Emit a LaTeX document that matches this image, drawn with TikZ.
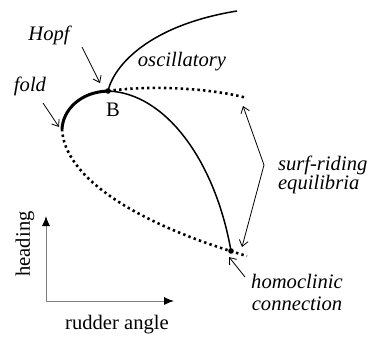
\documentclass[tikz,border=0pt]{standalone}
\usepackage{fontspec}
\setmainfont{Liberation Serif}
\usetikzlibrary{arrows.meta}

\begin{document}
\begin{tikzpicture}[x=0.5pt,y=-0.5pt,
    every node/.style={font=\fontsize{10.3}{10}\selectfont},
    lbl/.style={font=\fontsize{10.3}{10}\selectfont\itshape},
    arr/.style={line width=0.4pt,-{Straight Barb[length=3pt,width=4.5pt]}},
    branch/.style={line width=0.75pt},
    unstable/.style={line width=1.3pt,dash pattern=on 1.2pt off 1.6pt},
    axis/.style={gray,line width=0.5pt,-{Latex[color=black,length=5pt,width=4pt]}}]
  \useasboundingbox (0,0) rectangle (369,338);

  \coordinate (B) at (108,91);
  \coordinate (F) at (62,129);
  \coordinate (H) at (231,251);
  \coordinate (Otop) at (237,11);
  \coordinate (Uend) at (247,98);
  \coordinate (Lend) at (247,256);

  % branches
  \draw[branch] (B) .. controls (114,65) and (150,25) .. (Otop);
  \draw[branch] (B) .. controls (165,93) and (215,160) .. (H);
  \draw[line width=1.5pt] (F) .. controls (63,110) and (80,92) .. (B);
  \draw[unstable] (B) .. controls (150,85) and (210,88) .. (Uend);
  \draw[unstable] (F) .. controls (64,175) and (130,222) .. (Lend);
  \fill (B) circle (1.4pt);
  \fill (H) circle (1.4pt);

  % labels
  \node[lbl] (hopf) at (49,35) {Hopf};
  \node[lbl] (fold) at (30,86) {fold};
  \node (blab) at (113,110) {B};
  \node[lbl] (osc) at (182,62) {oscillatory};
  \node[lbl, align=left, anchor=west] (surf) at (271,175) {surf-riding\\[-0.5pt]equilibria};
  \node[lbl, align=center] (homo) at (297,292) {homoclinic\\[1pt]connection};

  \coordinate (hopft) at (82,47);
  \coordinate (hopfh) at (100,83);
  \coordinate (foldt) at (43,103);
  \coordinate (foldh) at (59,127);
  \coordinate (S) at (264,165);
  \coordinate (surfu) at (243,106);
  \coordinate (surfl) at (242,247);
  \coordinate (homot) at (245,277);
  \coordinate (homoh) at (229,257);

  \draw[arr] (hopft) -- (hopfh);
  \draw[arr] (foldt) -- (foldh);
  \draw[arr] (S) -- (surfu);
  \draw[arr] (S) -- (surfl);
  \draw[arr] (homot) -- (homoh);

  % axes
  \coordinate (O) at (46,301);
  \coordinate (Y) at (46,216);
  \coordinate (X) at (174,301);
  \draw[axis] (O) -- (Y);
  \draw[axis] (O) -- (X);
  \node[rotate=90] (head) at (25,244) {heading};
  \node (rud) at (117,325) {rudder angle};
\end{tikzpicture}
\end{document}
